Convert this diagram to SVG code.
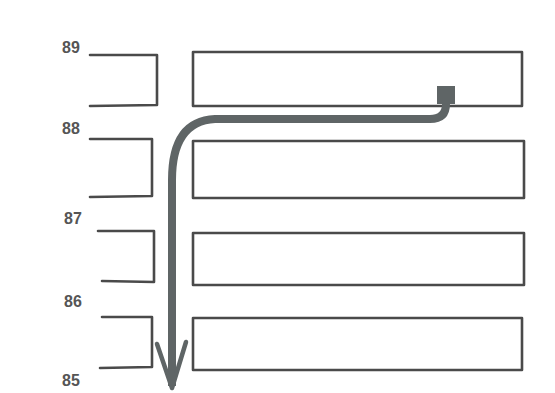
<svg xmlns="http://www.w3.org/2000/svg" width="555" height="393" viewBox="0 0 555 393">
<style>
.ln{fill:none;stroke:#4a4a4a;stroke-width:2.6;stroke-linejoin:round;stroke-linecap:round}
.lb{font-family:"Liberation Sans",Arial,sans-serif;font-size:16px;font-weight:bold;fill:#555}
.ar{fill:none;stroke:#5f6566;stroke-width:8;stroke-linecap:butt;stroke-linejoin:round}
</style>
<rect width="555" height="393" fill="#fff"/>
<g id="floor89">
<text class="lb" x="62" y="53">89</text>
<path class="ln" d="M90 55 L157 55 L157 105 L90 106"/>
<rect class="ln" x="193" y="52" width="329" height="54"/>
</g>
<g id="floor88">
<text class="lb" x="62" y="134">88</text>
<path class="ln" d="M90 139 L152 139 L152 196 L90 197"/>
<rect class="ln" x="193" y="141" width="331" height="57"/>
</g>
<g id="floor87">
<text class="lb" x="64" y="224">87</text>
<path class="ln" d="M98 231 L154 231 L154 282 L102 281"/>
<rect class="ln" x="193" y="233" width="331" height="52"/>
</g>
<g id="floor86">
<text class="lb" x="64" y="307">86</text>
<path class="ln" d="M102 317 L152 317 L152 367 L100 368"/>
<rect class="ln" x="193" y="318" width="329" height="52"/>
</g>
<g id="floor85">
<text class="lb" x="62" y="386">85</text>
</g>
<g id="connectors">
<rect x="437" y="86" width="18" height="18" fill="#5f6566"/>
<path class="ar" d="M446 104 Q446 119 430 119 L215 119 Q172 121 172 180 L172 386"/>
<path class="ln" d="M157 344 L172 388 L186 342" style="stroke:#5f6566;stroke-width:4.5"/>
</g>
</svg>
